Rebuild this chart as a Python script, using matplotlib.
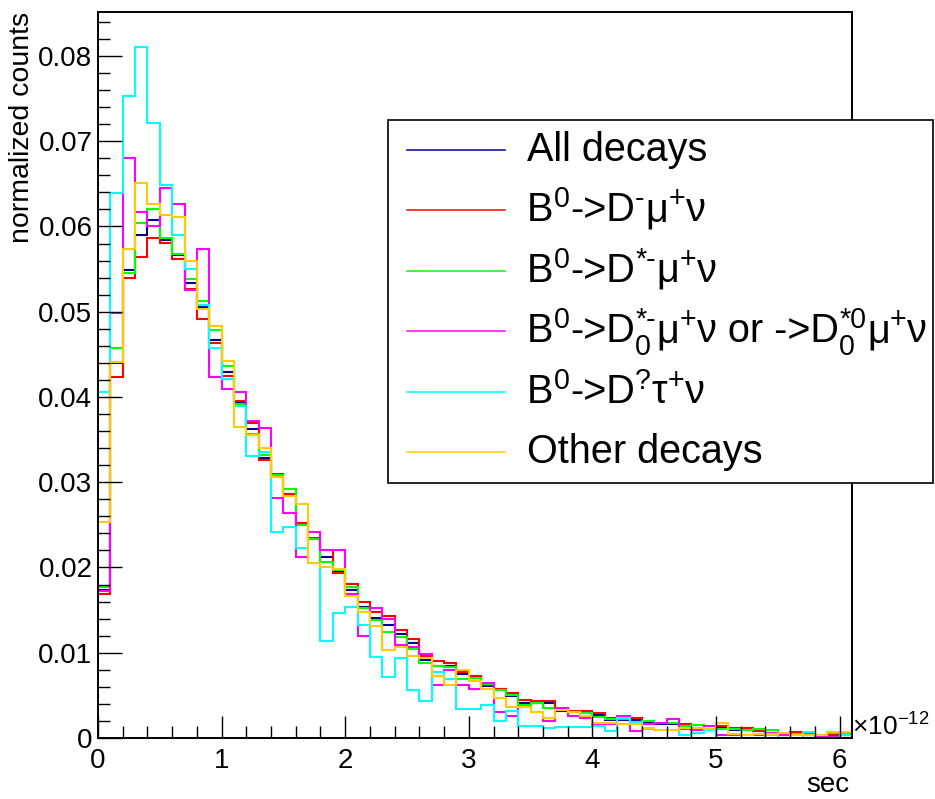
from __future__ import annotations

import matplotlib
import numpy as np

matplotlib.use("Agg")
import matplotlib.pyplot as plt
from matplotlib.lines import Line2D
from matplotlib.patches import Rectangle
from matplotlib.ticker import FuncFormatter, MultipleLocator


OUTPUT_PLOT = "out.png"

# 61 bins of 0.1e-12 s, x axis drawn in units of 1e-12 s
BIN_EDGES = np.round(np.arange(62) * 0.1, 1)

ALL_DECAYS = [
    0.0174, 0.0440, 0.0549, 0.0590, 0.0607, 0.0584, 0.0566, 0.0534, 0.0505, 0.0467,
    0.0429, 0.0393, 0.0363, 0.0329, 0.0309, 0.0286, 0.0252, 0.0234, 0.0212, 0.0195,
    0.0174, 0.0154, 0.0141, 0.0133, 0.0122, 0.0112, 0.0092, 0.0085, 0.0085, 0.0075,
    0.0071, 0.0061, 0.0057, 0.0049, 0.0041, 0.0041, 0.0041, 0.0032, 0.0031, 0.0031,
    0.0027, 0.0021, 0.0021, 0.0021, 0.0018, 0.0016, 0.0016, 0.0014, 0.0012, 0.0009,
    0.0012, 0.0009, 0.0009, 0.0008, 0.0006, 0.0004, 0.0005, 0.0003, 0.0002, 0.0004,
    0.0004,
]
D_MU_NU = [
    0.0169, 0.0423, 0.0539, 0.0564, 0.0587, 0.0581, 0.0562, 0.0527, 0.0491, 0.0463,
    0.0425, 0.0395, 0.0369, 0.0326, 0.0310, 0.0286, 0.0252, 0.0235, 0.0220, 0.0193,
    0.0181, 0.0159, 0.0148, 0.0143, 0.0127, 0.0116, 0.0096, 0.0090, 0.0088, 0.0078,
    0.0073, 0.0062, 0.0058, 0.0053, 0.0045, 0.0043, 0.0043, 0.0034, 0.0032, 0.0032,
    0.0029, 0.0023, 0.0022, 0.0024, 0.0020, 0.0018, 0.0018, 0.0016, 0.0012, 0.0009,
    0.0014, 0.0012, 0.0012, 0.0008, 0.0006, 0.0003, 0.0007, 0.0003, 0.0001, 0.0004,
    0.0004,
]
DSTAR_MU_NU = [
    0.0177, 0.0457, 0.0545, 0.0604, 0.0621, 0.0587, 0.0568, 0.0538, 0.0512, 0.0478,
    0.0436, 0.0392, 0.0357, 0.0332, 0.0309, 0.0292, 0.0250, 0.0233, 0.0207, 0.0197,
    0.0177, 0.0152, 0.0138, 0.0124, 0.0118, 0.0104, 0.0088, 0.0084, 0.0083, 0.0069,
    0.0070, 0.0063, 0.0056, 0.0051, 0.0039, 0.0041, 0.0035, 0.0033, 0.0030, 0.0029,
    0.0025, 0.0022, 0.0022, 0.0018, 0.0020, 0.0018, 0.0018, 0.0014, 0.0015, 0.0009,
    0.0010, 0.0010, 0.0009, 0.0010, 0.0009, 0.0005, 0.0005, 0.0004, 0.0003, 0.0006,
    0.0005,
]
DSTAR0_MU_NU = [
    0.0172, 0.0499, 0.0680, 0.0617, 0.0600, 0.0645, 0.0626, 0.0525, 0.0573, 0.0423,
    0.0409, 0.0406, 0.0372, 0.0364, 0.0282, 0.0264, 0.0212, 0.0242, 0.0221, 0.0221,
    0.0169, 0.0120, 0.0152, 0.0140, 0.0109, 0.0107, 0.0098, 0.0062, 0.0080, 0.0062,
    0.0058, 0.0064, 0.0030, 0.0026, 0.0036, 0.0031, 0.0020, 0.0035, 0.0026, 0.0024,
    0.0017, 0.0016, 0.0026, 0.0008, 0.0017, 0.0018, 0.0022, 0.0010, 0.0009, 0.0014,
    0.0004, 0.0004, 0.0003, 0.0003, 0.0006, 0.0003, 0.0003, 0.0005, 0.0001, 0.0001,
    0.0003,
]
D_TAU_NU = [
    0.0406, 0.0639, 0.0753, 0.0811, 0.0721, 0.0649, 0.0590, 0.0550, 0.0508, 0.0457,
    0.0421, 0.0390, 0.0331, 0.0335, 0.0242, 0.0248, 0.0223, 0.0205, 0.0114, 0.0147,
    0.0154, 0.0133, 0.0095, 0.0071, 0.0094, 0.0056, 0.0043, 0.0078, 0.0069, 0.0034,
    0.0034, 0.0039, 0.0020, 0.0032, 0.0014, 0.0014, 0.0012, 0.0013, 0.0013, 0.0013,
    0.0014, 0.0008, 0.0023, 0.0019, 0.0010, 0.0009, 0.0009, 0.0004, 0.0006, 0.0009,
    0.0000, 0.0000, 0.0000, 0.0000, 0.0004, 0.0000, 0.0000, 0.0007, 0.0000, 0.0000,
    0.0003,
]
OTHER_DECAYS = [
    0.0253, 0.0441, 0.0574, 0.0651, 0.0626, 0.0613, 0.0611, 0.0560, 0.0503, 0.0483,
    0.0442, 0.0365, 0.0355, 0.0340, 0.0306, 0.0284, 0.0274, 0.0205, 0.0200, 0.0198,
    0.0166, 0.0148, 0.0131, 0.0103, 0.0107, 0.0096, 0.0094, 0.0073, 0.0062, 0.0080,
    0.0067, 0.0057, 0.0047, 0.0036, 0.0036, 0.0031, 0.0024, 0.0033, 0.0030, 0.0026,
    0.0018, 0.0018, 0.0017, 0.0017, 0.0012, 0.0009, 0.0009, 0.0012, 0.0012, 0.0010,
    0.0018, 0.0005, 0.0004, 0.0005, 0.0005, 0.0006, 0.0004, 0.0003, 0.0004, 0.0007,
    0.0007,
]

SERIES = [ALL_DECAYS, D_MU_NU, DSTAR_MU_NU, DSTAR0_MU_NU, D_TAU_NU, OTHER_DECAYS]
COLORS = ["#000099", "#ff0000", "#00ff00", "#ff00ff", "#00ffff", "#ffcc00"]

# legend labels as TLatex-like runs: (text, superscript, subscript)
LABELS = [
    [("All decays", "", "")],
    [("B", "0", ""), ("->D", "-", ""), ("μ", "+", ""), ("ν", "", "")],
    [("B", "0", ""), ("->D", "*-", ""), ("μ", "+", ""), ("ν", "", "")],
    [("B", "0", ""), ("->D", "*-", "0"), ("μ", "+", ""), ("ν or ->D", "*0", "0"),
     ("μ", "+", ""), ("ν", "", "")],
    [("B", "0", ""), ("->D", "?", ""), ("τ", "+", ""), ("ν", "", "")],
    [("Other decays", "", "")],
]

W, H = 935, 799


def fx(px: float) -> float:
    return px / W


def fy(py: float) -> float:
    return 1 - py / H


def draw_latex(fig, renderer, x, baseline, runs, size):
    """Place text runs with raised/lowered small scripts, ROOT TLatex style."""
    small = size * 0.72
    for text, sup, sub in runs:
        t = fig.text(fx(x), fy(baseline), text, ha="left", va="baseline",
                     fontsize=size, zorder=7)
        x += t.get_window_extent(renderer).width
        script_width = 0
        if sup:
            s = fig.text(fx(x), fy(baseline - 14), sup, ha="left",
                         va="baseline", fontsize=small, zorder=7)
            script_width = max(script_width, s.get_window_extent(renderer).width)
        if sub:
            s = fig.text(fx(x), fy(baseline + 12.5), sub, ha="left",
                         va="baseline", fontsize=small, zorder=7)
            script_width = max(script_width, s.get_window_extent(renderer).width)
        if script_width:
            x += script_width + 1


def main() -> None:
    plt.rcParams["font.family"] = ["Liberation Sans", "DejaVu Sans"]
    plt.rcParams["mathtext.fontset"] = "custom"
    plt.rcParams["mathtext.rm"] = "Liberation Sans"

    fig = plt.figure(figsize=(W / 100, H / 100), dpi=100)
    renderer = fig.canvas.get_renderer()
    ax = fig.add_axes([fx(98), fy(738), fx(852) - fx(98), fy(12) - fy(738)])

    for values, color in zip(SERIES, COLORS):
        ax.stairs(values, BIN_EDGES, baseline=None, color=color, linewidth=1.5)

    ax.set_xlim(BIN_EDGES[0], BIN_EDGES[-1])
    ax.set_ylim(0, 1.05 * max(D_TAU_NU))

    ax.xaxis.set_major_locator(MultipleLocator(1))
    ax.xaxis.set_minor_locator(MultipleLocator(0.2))
    ax.yaxis.set_major_locator(MultipleLocator(0.01))
    ax.yaxis.set_minor_locator(MultipleLocator(0.002))
    fmt = FuncFormatter(lambda v, pos: f"{v:g}" if abs(v) > 1e-9 else "0")
    ax.xaxis.set_major_formatter(fmt)
    ax.yaxis.set_major_formatter(fmt)

    ax.tick_params(which="both", direction="in", top=False, right=False,
                   width=1.0, colors="black", labelsize=20)
    ax.tick_params(axis="x", which="major", length=16, pad=7)
    ax.tick_params(axis="y", which="major", length=17, pad=4)
    ax.tick_params(which="minor", length=8.5)
    for spine in ax.spines.values():
        spine.set_linewidth(1.4)

    fig.text(fx(22), fy(12), "normalized counts", rotation=90,
             ha="center", va="top", fontsize=20.5)
    fig.text(fx(849), fy(792), "sec", ha="right", va="baseline", fontsize=20)
    fig.text(fx(852), fy(735), r"×10$^{-12}$", ha="left", va="baseline",
             fontsize=19)

    # legend box, ROOT TLegend style
    fig.add_artist(Rectangle((fx(388), fy(483)), fx(933) - fx(388),
                             fy(120) - fy(483), transform=fig.transFigure,
                             facecolor="white", edgecolor="black",
                             linewidth=1.2, zorder=5))
    for i, (runs, color) in enumerate(zip(LABELS, COLORS)):
        row_y = 150 + i * 60.4
        fig.add_artist(Line2D([fx(407), fx(505)], [fy(row_y), fy(row_y)],
                              transform=fig.transFigure, color=color,
                              linewidth=1.1, zorder=6))
        draw_latex(fig, renderer, 527, row_y + 11, runs, 28.5)

    fig.savefig(OUTPUT_PLOT, dpi=100)
    plt.close(fig)


if __name__ == "__main__":
    main()
